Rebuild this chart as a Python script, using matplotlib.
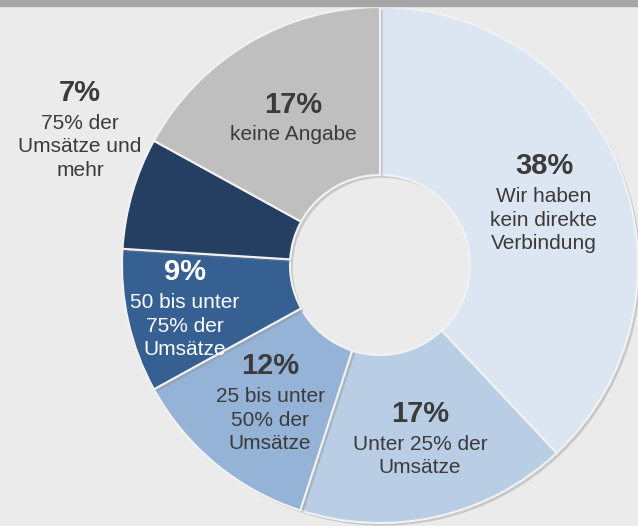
import matplotlib
matplotlib.use("Agg")
import matplotlib.pyplot as plt
import matplotlib.patheffects as pe
from matplotlib.patches import Rectangle

plt.rcParams["font.family"] = ["Liberation Sans", "DejaVu Sans"]

# data
shares = [38, 17, 12, 9, 7, 17]
pct_labels = ["38%", "17%", "12%", "9%", "7%", "17%"]
names = [
    "Wir haben\nkein direkte\nVerbindung",
    "Unter 25% der\nUmsätze",
    "25 bis unter\n50% der\nUmsätze",
    "50 bis unter\n75% der\nUmsätze",
    "75% der\nUmsätze und\nmehr",
    "keine Angabe",
]
colors = ["#dce6f2", "#b9cde5", "#95b3d7", "#366092", "#243f61", "#bfbfbf"]
text_colors = ["#3b3b3b", "#3b3b3b", "#3b3b3b", "white", "#3b3b3b", "#3b3b3b"]

# label anchor (x, y of the percent text) in pixel coords from the top-left
label_pos = [(544, 166), (420, 414), (270, 366), (185, 272), (80, 93), (293, 105)]

W, H = 638, 526
fig = plt.figure(figsize=(W / 100, H / 100), dpi=100)
fig.patch.set_facecolor("#ebebeb")
ax = fig.add_axes([0, 0, 1, 1])

cx, cy = 380, H - 265
wedges, _ = ax.pie(
    shares, colors=colors, startangle=90, counterclock=False,
    radius=258, center=(cx, cy), frame=True,
    wedgeprops=dict(width=168, edgecolor="#f2f2f2", linewidth=1.5),
)
ax.set_xlim(0, W)
ax.set_ylim(0, H)
ax.set_aspect("equal")
ax.axis("off")
for w in wedges:
    w.set_path_effects([pe.SimplePatchShadow(offset=(2, -2), shadow_rgbFace="#888888", alpha=0.35),
                        pe.Normal()])

line_h = 24
for (x, y), p, n, c in zip(label_pos, pct_labels, names, text_colors):
    ax.text(x, H - y, p, ha="center", va="center", fontsize=21,
            fontweight="bold", color=c)
    nlines = n.count("\n") + 1
    yc = y + 30 + (nlines - 1) * line_h / 2
    ax.text(x, H - yc, n, ha="center", va="center", fontsize=15,
            color=c, linespacing=1.3)

fig.add_artist(Rectangle((0, 1 - 6 / H), 1, 6 / H, transform=fig.transFigure,
                         color="#a6a6a6", zorder=10))

fig.savefig("out.png", dpi=100, facecolor=fig.get_facecolor())
